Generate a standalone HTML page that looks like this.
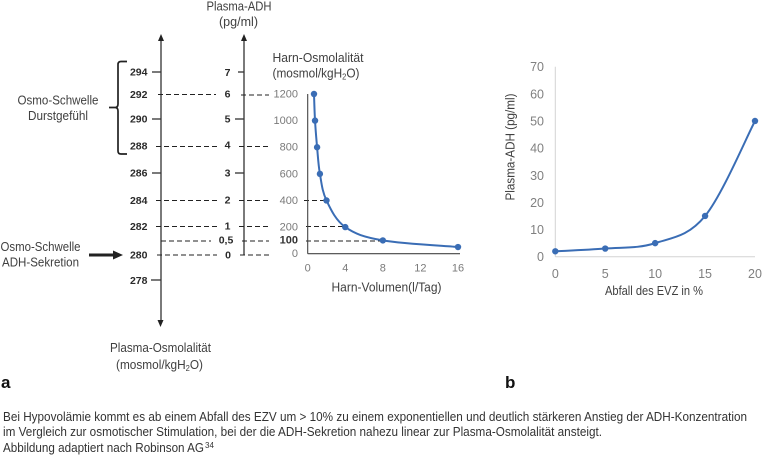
<!DOCTYPE html>
<html lang="de">
<head>
<meta charset="utf-8">
<title>ADH-Sekretion</title>
<style>
html,body{margin:0;padding:0;background:#fff;width:762px;height:456px;overflow:hidden}
svg{display:block;font-family:"Liberation Sans",sans-serif;filter:blur(0.3px)}
.lab{font-size:12.5px;fill:#404040}
.bold{font-size:10.5px;font-weight:bold;fill:#2a2a2a}
.dash{stroke:#222;stroke-width:1.1;stroke-dasharray:5 3;fill:none}
.ax{stroke:#333;stroke-width:1.3;fill:none}
.cap{font-size:12.5px;fill:#333}
</style>
</head>
<body>
<svg id="fig" xmlns="http://www.w3.org/2000/svg" width="762" height="456" viewBox="0 0 762 456">
  <g>
    <line class="ax" x1="161" y1="38" x2="161" y2="322"/>
    <polygon points="161,34 158,41 164,41" fill="#222"/>
    <polygon points="160.5,327 157.5,320 163.5,320" fill="#222"/>
    <line class="ax" x1="244" y1="38" x2="244" y2="255"/>
    <polygon points="244,34 241,41 247,41" fill="#222"/>

    <g class="ax">
      <line x1="152" y1="72" x2="161" y2="72"/><line x1="152" y1="119" x2="161" y2="119"/>
      <line x1="152" y1="173" x2="161" y2="173"/><line x1="151" y1="280" x2="161" y2="280"/>
    </g>
    <g class="ax">
      <line x1="238" y1="72" x2="244" y2="72"/><line x1="235" y1="119" x2="244" y2="119"/>
      <line x1="235" y1="173" x2="244" y2="173"/>
    </g>
    <g class="bold" text-anchor="end">
      <text x="147.500" y="75.500">294</text><text x="147.500" y="98">292</text><text x="147.500" y="122.500">290</text>
      <text x="147.500" y="149.500">288</text><text x="147.500" y="176.500">286</text><text x="147.500" y="204">284</text>
      <text x="147.500" y="230">282</text><text x="147.500" y="258.500">280</text><text x="147.500" y="284">278</text>
    </g>
    <g class="bold" text-anchor="middle">
      <text x="227.500" y="76">7</text><text x="227.500" y="97.500">6</text><text x="227.500" y="122.500">5</text>
      <text x="227.500" y="148.500">4</text><text x="227.500" y="176.500">3</text><text x="227.500" y="203.500">2</text>
      <text x="227.500" y="229.500">1</text><text x="226" y="243.500">0,5</text><text x="228" y="258.500">0</text>
    </g>
    <g class="dash">
      <line x1="158" y1="94.500" x2="216" y2="94.500"/><line x1="156" y1="146.500" x2="218" y2="146.500"/>
      <line x1="156" y1="200.500" x2="217" y2="200.500"/><line x1="156" y1="226.500" x2="218" y2="226.500"/>
      <line x1="161" y1="241" x2="211" y2="241"/><line x1="157" y1="255" x2="217" y2="255"/>
      <line x1="241" y1="95" x2="269" y2="95"/><line x1="239" y1="146.500" x2="269" y2="146.500"/>
      <line x1="239" y1="200.500" x2="269" y2="200.500"/><line x1="239" y1="226.500" x2="269" y2="226.500"/>
      <line x1="242" y1="241" x2="269" y2="241"/><line x1="240" y1="255" x2="269" y2="255"/>
      <line x1="304" y1="200.500" x2="327" y2="200.500"/><line x1="306" y1="226.500" x2="345" y2="226.500"/>
      <line x1="306" y1="241" x2="383" y2="241"/>
    </g>
    <path d="M127,61.500 H121 Q118,61.500 118,64.500 V104 Q118,107.500 115,107.500 H109 H115 Q118,107.500 118,111 V151 Q118,154 121,154 H127" fill="none" stroke="#222" stroke-width="1.700"/>
    <text class="lab" x="17.500" y="104.500" textLength="81" lengthAdjust="spacingAndGlyphs">Osmo-Schwelle</text>
    <text class="lab" x="28" y="120" textLength="60" lengthAdjust="spacingAndGlyphs">Durstgefühl</text>
    <text class="lab" x="0.500" y="251" textLength="80" lengthAdjust="spacingAndGlyphs">Osmo-Schwelle</text>
    <text class="lab" x="2" y="266.500" textLength="77" lengthAdjust="spacingAndGlyphs">ADH-Sekretion</text>
    <g>
      <line x1="89" y1="255" x2="114" y2="255" stroke="#222" stroke-width="3"/>
      <polygon points="123,255 113,250.500 113,259.500" fill="#222"/>
    </g>
    <text class="lab" x="110" y="352" textLength="101" lengthAdjust="spacingAndGlyphs">Plasma-Osmolalität</text>
    <text class="lab" x="116" y="369" textLength="87" lengthAdjust="spacingAndGlyphs">(mosmol/kgH<tspan font-size="8" dy="2">2</tspan><tspan dy="-2">O)</tspan></text>
    <text class="lab" x="206.500" y="10.500" textLength="65" lengthAdjust="spacingAndGlyphs">Plasma-ADH</text>
    <text class="lab" x="219" y="26" textLength="39" lengthAdjust="spacingAndGlyphs">(pg/ml)</text>
    <text class="lab" x="272.500" y="62" textLength="91" lengthAdjust="spacingAndGlyphs">Harn-Osmolalität</text>
    <text class="lab" x="272.500" y="77.500" textLength="87" lengthAdjust="spacingAndGlyphs">(mosmol/kgH<tspan font-size="8" dy="2">2</tspan><tspan dy="-2">O)</tspan></text>
    <text class="lab" x="331.500" y="291.500" textLength="110" lengthAdjust="spacingAndGlyphs">Harn-Volumen(l/Tag)</text>
  </g>

  <g id="chartA"></g>
  <g id="chartB"></g>

  <text x="1" y="388" font-size="17" font-weight="bold" fill="#111">a</text>
  <text x="505" y="388" font-size="17" font-weight="bold" fill="#111">b</text>

  <g>
    <text class="cap" x="3" y="421" textLength="744" lengthAdjust="spacingAndGlyphs">Bei Hypovolämie kommt es ab einem Abfall des EZV um &gt; 10% zu einem exponentiellen und deutlich stärkeren Anstieg der ADH-Konzentration</text>
    <text class="cap" x="3" y="436" textLength="599" lengthAdjust="spacingAndGlyphs">im Vergleich zur osmotischer Stimulation, bei der die ADH-Sekretion nahezu linear zur Plasma-Osmolalität ansteigt.</text>
    <text class="cap" x="3" y="452" textLength="201" lengthAdjust="spacingAndGlyphs">Abbildung adaptiert nach Robinson AG</text>
    <text x="205" y="448" font-size="8" fill="#333">34</text>
  </g>
</svg>

<script>
const urineVolume = [0.67, 0.78, 1, 1.3, 2, 4, 8, 16];
const urineOsmolality = [1200, 1000, 800, 600, 400, 200, 100, 50];
const urineYTicks = [0, 100, 200, 400, 600, 800, 1000, 1200];
const urineXTicks = [0, 4, 8, 12, 16];

const evzDrop = [0, 5, 10, 15, 20];
const plasmaAdh = [2, 3, 5, 15, 50];
const evzXTicks = [0, 5, 10, 15, 20];
const adhYTicks = [0, 10, 20, 30, 40, 50, 60, 70];

const NS = 'http://www.w3.org/2000/svg';
function make(parent, tag, attrs, content) {
  const el = document.createElementNS(NS, tag);
  for (const k in attrs) el.setAttribute(k, attrs[k]);
  if (content !== undefined) el.textContent = content;
  parent.appendChild(el);
  return el;
}
function scale(d0, d1, r0, r1) {
  return function (v) { return r0 + (v - d0) * (r1 - r0) / (d1 - d0); };
}
function smoothPath(pts) {
  let d = 'M' + pts[0][0] + ',' + pts[0][1];
  const t = 0.17;
  for (let i = 0; i < pts.length - 1; i++) {
    const p0 = pts[Math.max(i - 1, 0)], p1 = pts[i], p2 = pts[i + 1], p3 = pts[Math.min(i + 2, pts.length - 1)];
    d += ' C' + (p1[0] + (p2[0] - p0[0]) * t) + ',' + (p1[1] + (p2[1] - p0[1]) * t) +
         ' ' + (p2[0] - (p3[0] - p1[0]) * t) + ',' + (p2[1] - (p3[1] - p1[1]) * t) +
         ' ' + p2[0] + ',' + p2[1];
  }
  return d;
}

/* Chart a: urine osmolality vs. volume */
const gA = document.getElementById('chartA');
const xA = scale(0, 16, 307.7, 458);
const yA = scale(0, 1200, 253.7, 94);

const axisYA = make(gA, 'line', {x1: xA(0), y1: yA(1200), x2: xA(0), y2: yA(0), stroke: '#444', 'stroke-width': 1.1});


const axisXA = make(gA, 'line', {x1: xA(0), y1: yA(0), x2: xA(16) + 2, y2: yA(0), stroke: '#444', 'stroke-width': 1.1});



urineYTicks.forEach(function (v) {
  const dark = v === 100;
  const t = make(gA, 'text', {x: 298, y: yA(v) + (dark ? 3 : 3.5), 'text-anchor': 'end', 'font-size': 11, 'font-weight': dark ? 'bold' : 'normal', fill: dark ? '#333' : '#7a7a7a'}, String(v));
  
  
});
urineXTicks.forEach(function (v) {
  const t = make(gA, 'text', {x: xA(v), y: 271.5, 'text-anchor': 'middle', 'font-size': 11, fill: '#7a7a7a'}, String(v));
  
  
});
const ptsA = urineVolume.map(function (v, i) { return [xA(v), yA(urineOsmolality[i])]; });
const lineA = make(gA, 'path', {d: smoothPath(ptsA), fill: 'none', stroke: '#3a6db5', 'stroke-width': 2});


ptsA.forEach(function (p) {
  const c = make(gA, 'circle', {cx: p[0], cy: p[1], r: 3.2, fill: '#3a6db5'});
  
  
});

/* Chart b: plasma ADH vs. EVZ drop */
const gB = document.getElementById('chartB');
const xB = scale(0, 20, 555.3, 755);
const yB = scale(0, 70, 256.7, 66.7);

const axisYB = make(gB, 'line', {x1: xB(0), y1: yB(70), x2: xB(0), y2: yB(0), stroke: '#d4d4d4', 'stroke-width': 1});


const axisXB = make(gB, 'line', {x1: xB(0), y1: yB(0), x2: xB(20), y2: yB(0), stroke: '#d4d4d4', 'stroke-width': 1});



adhYTicks.forEach(function (v) {
  const t = make(gB, 'text', {x: 544, y: yB(v) + 4.5, 'text-anchor': 'end', 'font-size': 12.5, fill: '#808080'}, String(v));
  
  
});
evzXTicks.forEach(function (v) {
  const t = make(gB, 'text', {x: xB(v), y: 278, 'text-anchor': 'middle', 'font-size': 12.5, fill: '#808080'}, String(v));
  
  
});
const titleXB = make(gB, 'text', {x: 605, y: 295, 'font-size': 12.5, fill: '#404040', textLength: 98, lengthAdjust: 'spacingAndGlyphs'}, 'Abfall des EVZ in %');


const titleYB = make(gB, 'text', {transform: 'translate(514.5,200.5) rotate(-90)', 'font-size': 12.5, fill: '#404040', textLength: 107, lengthAdjust: 'spacingAndGlyphs'}, 'Plasma-ADH (pg/ml)');



const ptsB = evzDrop.map(function (v, i) { return [xB(v), yB(plasmaAdh[i])]; });
const lineB = make(gB, 'path', {d: smoothPath(ptsB), fill: 'none', stroke: '#3a6db5', 'stroke-width': 2});


ptsB.forEach(function (p) {
  const c = make(gB, 'circle', {cx: p[0], cy: p[1], r: 3.2, fill: '#3a6db5'});
  
  
});
</script>
</body>
</html>
